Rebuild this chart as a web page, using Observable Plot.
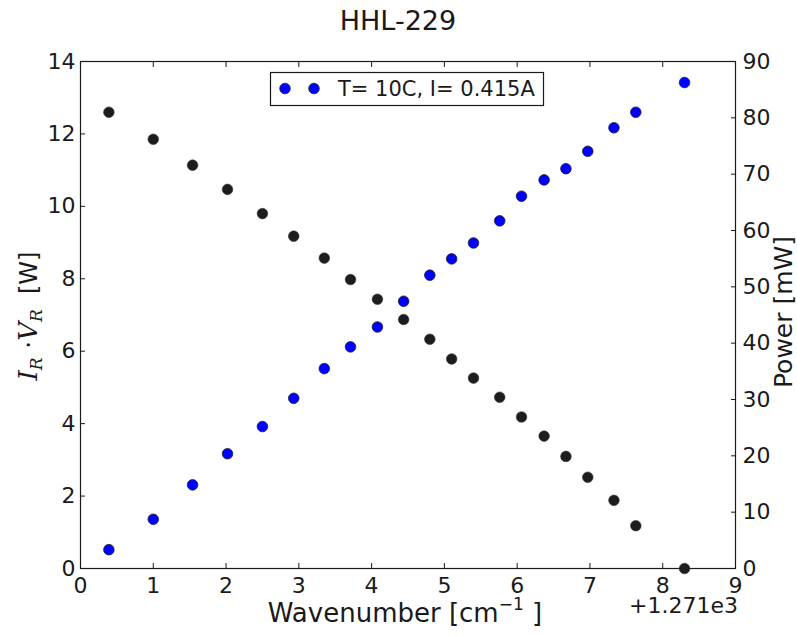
<!DOCTYPE html>
<html><head><meta charset="utf-8">
<script src="https://cdn.jsdelivr.net/npm/d3@7"></script>
<script src="https://cdn.jsdelivr.net/npm/@observablehq/plot@0.6"></script>
<style>
body{margin:0;background:#fff;font-family:"DejaVu Sans",sans-serif;}
#wrap{position:relative;width:797px;height:635px;overflow:hidden;background:#fff}
#wrap svg{position:absolute;left:0;top:0}
</style></head><body><div id="wrap"></div>
<script>
// ---- data (x values are offsets from 1271 cm^-1) ----
const xOffsetLabel = "+1.271e3";
const wavenumber = [0.39, 1.00, 1.54, 2.02, 2.50, 2.93, 3.35, 3.71, 4.08, 4.44, 4.80, 5.10, 5.40, 5.76, 6.06, 6.37, 6.67, 6.97, 7.33, 7.63, 8.30];
const ivPower = [0.52, 1.36, 2.31, 3.17, 3.92, 4.70, 5.52, 6.12, 6.67, 7.38, 8.10, 8.55, 8.99, 9.60, 10.28, 10.73, 11.04, 11.52, 12.17, 12.60, 13.42];
const opticalPower = [81.0, 76.2, 71.6, 67.3, 63.0, 59.0, 55.1, 51.3, 47.8, 44.2, 40.7, 37.2, 33.8, 30.4, 26.9, 23.5, 19.9, 16.2, 12.1, 7.6, 0.0];
const xTicks = [0, 1, 2, 3, 4, 5, 6, 7, 8, 9];
const yLeftTicks = [0, 2, 4, 6, 8, 10, 12, 14];
const yRightTicks = [0, 10, 20, 30, 40, 50, 60, 70, 80, 90];
const titleText = "HHL-229";
const legendText = "T= 10C, I= 0.415A";
const xLabelText = "Wavenumber [cm";
const rightLabelText = "Power [mW]";

const blueData = wavenumber.map((x, i) => ({x, y: ivPower[i]}));
const blackData = wavenumber.map((x, i) => ({x, y: opticalPower[i]}));

const W = 797, H = 635;
const common = {
  width: W, height: H,
  marginTop: 61, marginRight: 62, marginBottom: 67, marginLeft: 80,
  style: {fontFamily: "DejaVu Sans", fontSize: "22px", color: "#1a1a1a", background: "transparent", overflow: "visible"}
};
const ink = "#1a1a1a";

const leftPlot = Plot.plot({
  ...common,
  x: {domain: [0, 9], axis: null},
  y: {domain: [0, 14], axis: null},
  marks: [
    Plot.axisX(xTicks, {anchor: "bottom", tickSize: -5, tickPadding: 14, label: null, fontSize: 22, stroke: ink}),
    Plot.axisX(xTicks, {anchor: "top", tickSize: -5, tickFormat: () => "", label: null, stroke: ink}),
    Plot.axisY(yLeftTicks, {anchor: "left", tickSize: -5, tickPadding: 10, label: null, fontSize: 22, stroke: ink}),
    Plot.dot(blueData, {x: "x", y: "y", r: 5.3, fill: "#0000ff", stroke: "#222", strokeWidth: 0.8}),
    Plot.frame({stroke: ink, strokeWidth: 1.2})
  ]
});

const rightPlot = Plot.plot({
  ...common,
  x: {domain: [0, 9], axis: null},
  y: {domain: [0, 90], axis: null},
  marks: [
    Plot.axisY(yRightTicks, {anchor: "right", tickSize: -5, tickPadding: 12, label: null, fontSize: 22, stroke: ink}),
    Plot.dot(blackData, {x: "x", y: "y", r: 5.3, fill: "#1e1c1d", stroke: "#333", strokeWidth: 0.6})
  ]
});

const wrap = document.getElementById("wrap");
wrap.appendChild(leftPlot);
wrap.appendChild(rightPlot);

// ---- texts: title, axis labels, offset, legend ----
const svg = d3.select(rightPlot);
svg.append("text").attr("x", 398).attr("y", 30).attr("text-anchor", "middle")
  .attr("font-family", "DejaVu Sans").attr("font-size", 27).attr("fill", ink).text(titleText);

const xl = svg.append("text").attr("x", 405).attr("y", 622).attr("text-anchor", "middle")
  .attr("font-family", "DejaVu Sans").attr("font-size", 26).attr("fill", ink);
xl.append("tspan").text(xLabelText);
xl.append("tspan").attr("font-size", 17).attr("dy", -12).text("\u22121");
xl.append("tspan").attr("dy", 12).text(" ]");

svg.append("text").attr("x", 738).attr("y", 613).attr("text-anchor", "end")
  .attr("font-family", "DejaVu Sans").attr("font-size", 22).attr("fill", ink).text(xOffsetLabel);

const yl = svg.append("text").attr("transform", "translate(37,316) rotate(-90)").attr("text-anchor", "middle")
  .attr("font-size", 26).attr("fill", ink);
yl.append("tspan").attr("font-family", "DejaVu Serif").attr("font-style", "italic").text("I");
yl.append("tspan").attr("font-family", "DejaVu Serif").attr("font-style", "italic").attr("font-size", 17).attr("dy", 5).text("R");
yl.append("tspan").attr("font-family", "DejaVu Serif").attr("dy", -5).text(" \u00B7");
yl.append("tspan").attr("font-family", "DejaVu Serif").attr("font-style", "italic").text("V");
yl.append("tspan").attr("font-family", "DejaVu Serif").attr("font-style", "italic").attr("font-size", 17).attr("dy", 5).text("R");
yl.append("tspan").attr("font-family", "DejaVu Sans").attr("font-size", 24).attr("dy", -5).text("  [W]");

svg.append("text").attr("transform", "translate(792,312) rotate(-90)").attr("text-anchor", "middle")
  .attr("font-family", "DejaVu Sans").attr("font-size", 25).attr("fill", ink).text(rightLabelText);

const lg = svg.append("g");
lg.append("rect").attr("x", 270.5).attr("y", 72.5).attr("width", 273).attr("height", 33)
  .attr("fill", "#fff").attr("stroke", ink).attr("stroke-width", 1.2);
[285, 314].forEach(cx => lg.append("circle").attr("cx", cx).attr("cy", 88.5).attr("r", 5.3)
  .attr("fill", "#0000ff").attr("stroke", "#222").attr("stroke-width", 0.8));
lg.append("text").attr("x", 338).attr("y", 96).attr("text-anchor", "start").attr("font-family", "DejaVu Sans").attr("font-size", 21)
  .attr("fill", ink).text(legendText);
</script></body></html>
